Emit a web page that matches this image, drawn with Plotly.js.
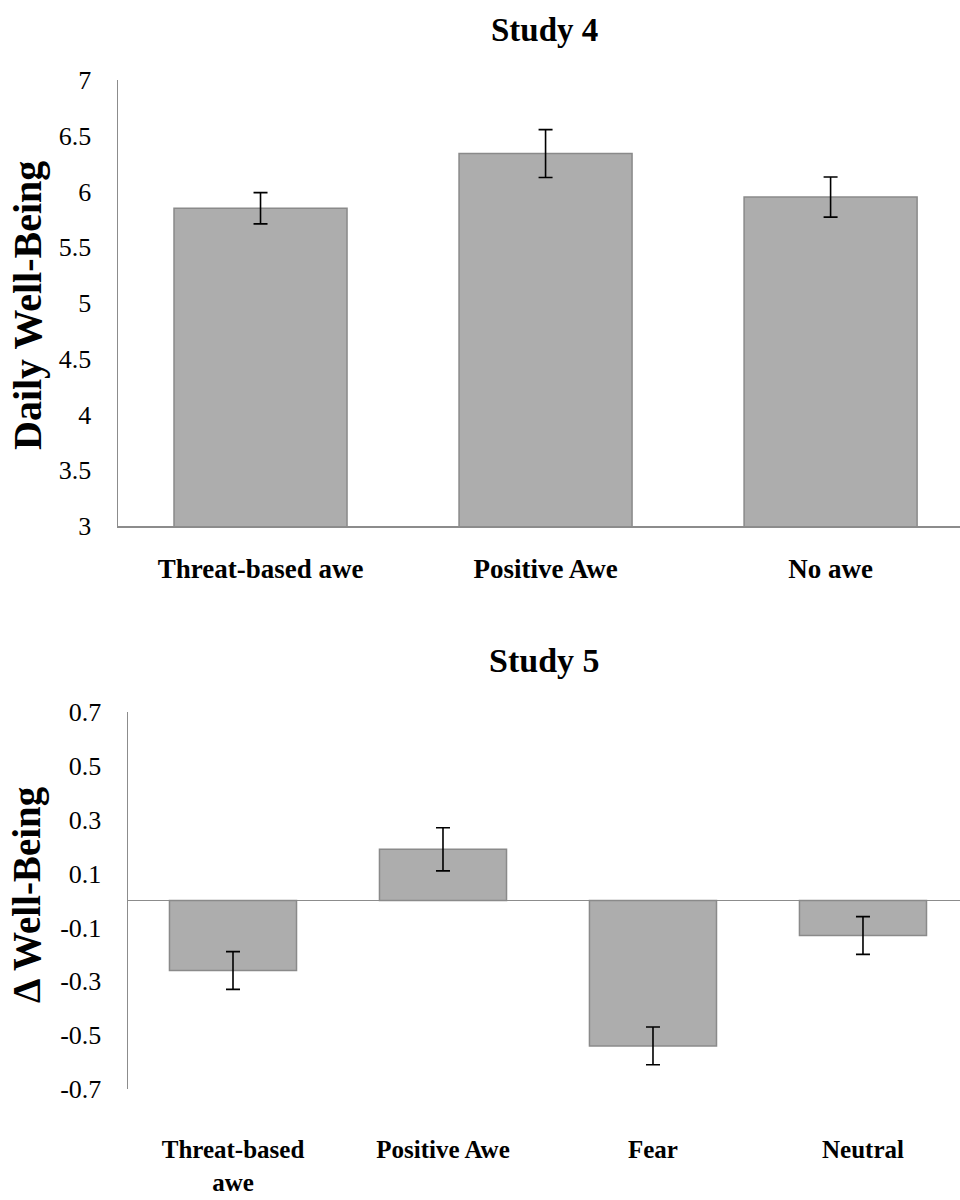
<!DOCTYPE html>
<html>
<head>
<meta charset="utf-8">
<script src="https://cdn.plot.ly/plotly-3.0.1.min.js"></script>
<style>html,body{margin:0;padding:0;background:#fff;}#chart{width:960px;height:1200px;}</style>
</head>
<body>
<div id="chart"></div>
<script>
// Study 4
const cats4 = ['Threat-based awe', 'Positive Awe', 'No awe'];
const vals4 = [5.85, 6.34, 5.95];
const err4 = [0.14, 0.215, 0.18];
const ticks4 = [3, 3.5, 4, 4.5, 5, 5.5, 6, 6.5, 7];
const tickText4 = ['3', '3.5', '4', '4.5', '5', '5.5', '6', '6.5', '7'];

// Study 5
const cats5 = ['Threat-based<br>awe', 'Positive Awe', 'Fear', 'Neutral'];
const vals5 = [-0.26, 0.19, -0.54, -0.13];
const err5 = [0.07, 0.08, 0.07, 0.07];
const ticks5 = [-0.7, -0.5, -0.3, -0.1, 0.1, 0.3, 0.5, 0.7];
const tickText5 = ['-0.7', '-0.5', '-0.3', '-0.1', '0.1', '0.3', '0.5', '0.7'];

const serif = 'Liberation Serif, Times New Roman, serif';
const barFill = '#adadad';
const barLine = '#8a8a8a';
const axisGray = '#8c8c8c';

const traces = [
  {
    type: 'bar', x: cats4, y: vals4, xaxis: 'x', yaxis: 'y', width: 0.607,
    marker: {color: barFill, line: {color: barLine, width: 1.5}},
    error_y: {type: 'data', array: err4, visible: true, color: '#000', thickness: 1.6, width: 7},
    hoverinfo: 'none'
  },
  {
    type: 'bar', x: cats5, y: vals5, xaxis: 'x2', yaxis: 'y2', width: 0.605,
    marker: {color: barFill, line: {color: barLine, width: 1.5}},
    error_y: {type: 'data', array: err5, visible: true, color: '#000', thickness: 1.6, width: 7},
    hoverinfo: 'none'
  }
];

const H = 1200, W = 960;
const layout = {
  width: W, height: H,
  margin: {l: 0, r: 0, t: 0, b: 0},
  paper_bgcolor: '#fff', plot_bgcolor: '#fff',
  showlegend: false,
  xaxis: {
    domain: [118 / W, 1], range: [-0.5, 2.454], anchor: 'y', type: 'category',
    showline: true, linecolor: axisGray, linewidth: 1.5, ticks: '', showgrid: false,
    tickfont: {family: serif, size: 27, color: '#000', weight: 'bold'},
    ticklabelstandoff: 18, fixedrange: true
  },
  yaxis: {
    domain: [1 - 526 / H, 1 - 80 / H], range: [3, 7], anchor: 'x',
    showline: true, linecolor: axisGray, linewidth: 1.5, ticks: '', showgrid: false, zeroline: false,
    tickvals: ticks4, ticktext: tickText4,
    tickfont: {family: serif, size: 26, color: '#000'},
    ticklabelstandoff: 20, fixedrange: true
  },
  xaxis2: {
    domain: [128 / W, 1], range: [-0.5, 3.462], anchor: 'y2', type: 'category',
    showline: false, ticks: '', showgrid: false,
    tickfont: {family: serif, size: 25, color: '#000', weight: 'bold'},
    ticklabelstandoff: 43, fixedrange: true
  },
  yaxis2: {
    domain: [1 - 1089 / H, 1 - 712 / H], range: [-0.7, 0.7], anchor: 'x2',
    showline: true, linecolor: axisGray, linewidth: 1.5, ticks: '', showgrid: false,
    zeroline: true, zerolinecolor: axisGray, zerolinewidth: 1.5,
    tickvals: ticks5, ticktext: tickText5,
    tickfont: {family: serif, size: 26, color: '#000'},
    ticklabelstandoff: 20, fixedrange: true
  },
  annotations: [
    {text: 'Study 4', xref: 'paper', yref: 'paper', x: 544 / W, y: 1 - 30 / H, showarrow: false,
     xanchor: 'center', yanchor: 'middle', font: {family: serif, size: 33, color: '#000', weight: 'bold'}},
    {text: 'Study 5', xref: 'paper', yref: 'paper', x: 544 / W, y: 1 - 660 / H, showarrow: false,
     xanchor: 'center', yanchor: 'middle', font: {family: serif, size: 34, color: '#000', weight: 'bold'}},
    {text: 'Daily Well-Being', xref: 'paper', yref: 'paper', x: 27 / W, y: 1 - 306 / H, showarrow: false,
     textangle: -90, xanchor: 'center', yanchor: 'middle', font: {family: serif, size: 40, color: '#000', weight: 'bold'}},
    {text: 'Δ Well-Being', xref: 'paper', yref: 'paper', x: 27 / W, y: 1 - 895 / H, showarrow: false,
     textangle: -90, xanchor: 'center', yanchor: 'middle', font: {family: serif, size: 39, color: '#000', weight: 'bold'}}
  ]
};

Plotly.newPlot('chart', traces, layout, {staticPlot: true, displayModeBar: false});
</script>
</body>
</html>
